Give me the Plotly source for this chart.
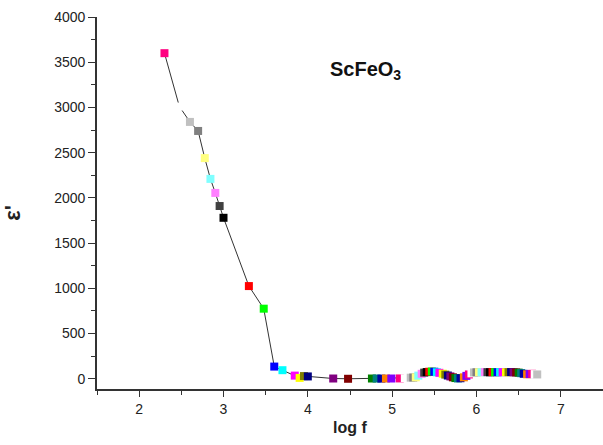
import plotly.graph_objects as go

# Dielectric constant of ScFeO3 versus log frequency
log_f = [
    2.30, 2.477, 2.602, 2.699, 2.778, 2.845, 2.903, 2.954, 3.000,
    3.301, 3.477, 3.602, 3.699, 3.845, 3.903, 3.954, 4.000,
    4.301, 4.477, 4.76, 4.816, 4.872, 4.926, 4.99, 5.09, 5.15,
    5.22, 5.25, 5.28, 5.31, 5.35, 5.38, 5.41, 5.44, 5.47, 5.50,
    5.53, 5.56, 5.60, 5.63, 5.66, 5.69, 5.72, 5.75, 5.78, 5.81,
    5.85, 5.88, 5.91, 5.94, 5.97, 6.00, 6.03, 6.06, 6.10, 6.13,
    6.16, 6.19, 6.22, 6.25, 6.28, 6.31, 6.35, 6.38, 6.41, 6.44,
    6.47, 6.50, 6.53, 6.56, 6.60, 6.63, 6.66, 6.69, 6.72,
]
eps_real = [
    3600, 3010, 2840, 2740, 2440, 2210, 2055, 1910, 1780,
    1025, 775, 135, 95, 35, 10, 30, 26,
    3, 0, 3, 3, 2, 3, 3, 4, 6,
    12, 14, 16, 35, 55, 68, 74, 78, 80, 78,
    72, 66, 56, 46, 36, 26, 16, 8, 4, 6,
    16, 32, 48, 60, 70, 72, 73, 72, 74, 73,
    72, 74, 73, 72, 74, 73, 72, 73, 74, 72,
    70, 68, 62, 55, 50, 52, 55, 52, 48,
]

# Origin-style colour cycle used for the symbols
palette = [
    "#000000", "#FF0000", "#00FF00", "#0000FF", "#00FFFF", "#FF00FF",
    "#FFFF00", "#808000", "#000080", "#800080", "#800000", "#008000",
    "#008080", "#0000A0", "#FF8000", "#8000FF", "#FF0080", "#FFFFFF",
    "#C0C0C0", "#808080", "#FFFF80", "#80FFFF", "#FF80FF", "#404040",
]
start = 16
colors = [palette[(start + i) % len(palette)] for i in range(len(log_f))]

fig = go.Figure()
fig.add_trace(go.Scatter(
    x=log_f, y=eps_real, mode="lines+markers",
    line=dict(color="#333333", width=1),
    marker=dict(symbol="square", size=8, color=colors, line=dict(width=0)),
    showlegend=False,
))

axis_font = dict(family="Liberation Sans, Arial, sans-serif", size=14, color="#222222")

fig.update_xaxes(
    range=[1.5, 7.5], tickvals=[2, 3, 4, 5, 6, 7],
    showline=True, linecolor="#333333", linewidth=1.6,
    ticks="outside", ticklen=6, tickwidth=1.4, tickcolor="#333333",
    minor=dict(dtick=0.5, ticks="outside", ticklen=4, tickwidth=1.2, tickcolor="#333333", showgrid=False),
    showgrid=False, zeroline=False, tickfont=axis_font,
)
fig.update_yaxes(
    range=[-113, 4000], tickvals=[0, 500, 1000, 1500, 2000, 2500, 3000, 3500, 4000],
    showline=True, linecolor="#333333", linewidth=1.6,
    ticks="outside", ticklen=7, tickwidth=1.4, tickcolor="#333333",
    minor=dict(dtick=250, ticks="outside", ticklen=4, tickwidth=1.2, tickcolor="#333333", showgrid=False),
    showgrid=False, zeroline=False, tickfont=axis_font,
)

fig.update_layout(
    width=603, height=445,
    margin=dict(l=97, r=0, t=17, b=56),
    paper_bgcolor="white", plot_bgcolor="white",
    annotations=[
        dict(text="<b>ScFeO<sub>3</sub></b>", x=0.531, y=0.855, xref="paper", yref="paper",
             showarrow=False, xanchor="center", yanchor="middle",
             font=dict(family="Liberation Sans, Arial, sans-serif", size=20, color="#111111")),
        dict(text="<b>log f</b>", x=0.5, y=-0.103, xref="paper", yref="paper",
             showarrow=False, xanchor="center", yanchor="middle",
             font=dict(family="Liberation Sans, Arial, sans-serif", size=16, color="#222222")),
        dict(text="<b>ε'</b>", x=-0.166, y=0.474, xref="paper", yref="paper",
             showarrow=False, xanchor="center", yanchor="middle", textangle=-90,
             font=dict(family="Liberation Sans, Arial, sans-serif", size=22, color="#222222")),
    ],
)

fig.write_html("out.html")
